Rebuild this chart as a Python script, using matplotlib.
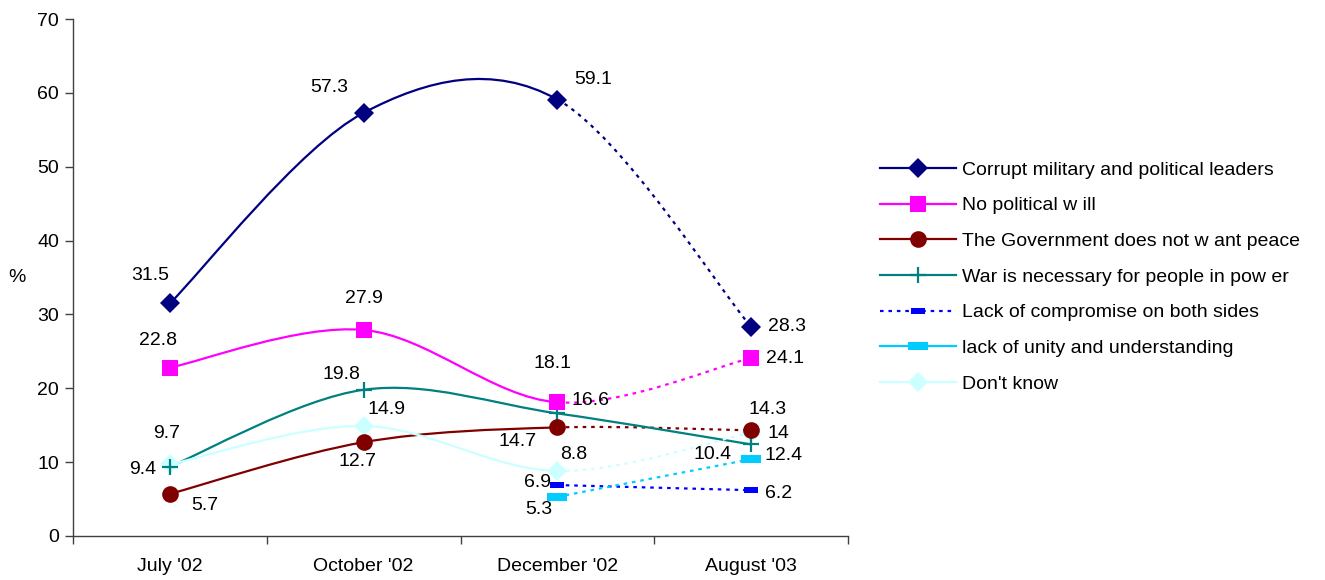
import numpy as np
import matplotlib
matplotlib.use("Agg")
import matplotlib.pyplot as plt
from matplotlib.path import Path
from matplotlib.patches import PathPatch
from matplotlib.lines import Line2D

plt.rcParams["font.family"] = ["Liberation Sans", "DejaVu Sans"]

# ========== DATA ==========
CATEGORIES = ["July '02", "October '02", "December '02", "August '03"]

CORRUPT = [31.5, 57.3, 59.1, 28.3]
NO_WILL = [22.8, 27.9, 18.1, 24.1]
GOVERNMENT = [5.7, 12.7, 14.7, 14.3]
WAR = [9.4, 19.8, 16.6, 12.4]
COMPROMISE = [None, None, 6.9, 6.2]
UNITY = [None, None, 5.3, 10.4]
DONT_KNOW = [9.7, 14.9, 8.8, 14.0]

SERIES_NAMES = [
    "Corrupt military and political leaders",
    "No political w ill",
    "The Government does not w ant peace",
    "War is necessary for people in pow er",
    "Lack of compromise on both sides",
    "lack of unity and understanding",
    "Don't know",
]
# ==========================

FONT = 14
AXIS_GREY = "#404040"
BAR = [(-1, -0.4), (1, -0.4), (1, 0.4), (-1, 0.4), (-1, -0.4)]

# style per series: colour, marker, marker size, dotted last segment?, label offsets (px)
STYLES = [
    dict(color="#000080", marker="D", ms=10, dotted_last=True,
         offs=[(-20, 28), (-34, 25), (36, 20), (36, 0)]),
    dict(color="#FF00FF", marker="s", ms=12, dotted_last=True,
         offs=[(-12, 27), (0, 31), (-5, 39), (34, 0)]),
    dict(color="#800000", marker="o", ms=12, dotted_last=True,
         offs=[(35, -12), (-6, -19), (-40, -14), (16, 21)]),
    dict(color="#008080", marker="+", ms=12, dotted_last=False,
         offs=[(-27, -3), (-22, 15), (33, 13), (32, -11)]),
    dict(color="#0000FF", marker=BAR, ms=10, dotted_last=True,
         offs=[None, None, (-20, 3), (27, -3)]),
    dict(color="#00CCFF", marker=BAR, ms=15, dotted_last=True,
         offs=[None, None, (-19, -13), (-39, 5)]),
    dict(color="#CCFFFF", marker="D", ms=10, dotted_last=True,
         offs=[(-3, 31), (23, 16), (16, 17), (27, -1)]),
]

DOTS = (0, (1.6, 2.2))


def segment_path(xs, ys, i):
    """Excel-like smoothed segment between point i and i+1."""
    n = len(xs)
    p0 = np.array([xs[i], ys[i]])
    p1 = np.array([xs[i + 1], ys[i + 1]])
    prev = np.array([xs[i - 1], ys[i - 1]]) if i > 0 else p0
    nxt = np.array([xs[i + 2], ys[i + 2]]) if i + 2 < n else p1
    c1 = p0 + (p1 - prev) / 6
    c2 = p1 - (nxt - p0) / 6
    return Path([p0, c1, c2, p1],
                [Path.MOVETO, Path.CURVE4, Path.CURVE4, Path.CURVE4])


fig = plt.figure(figsize=(13.25, 5.8), dpi=100)
ax = fig.add_axes([73 / 1325, 1 - 536 / 580, 775 / 1325, 517 / 580])

all_series = [CORRUPT, NO_WILL, GOVERNMENT, WAR, COMPROMISE, UNITY, DONT_KNOW]
order = [6, 5, 4, 3, 2, 1, 0]  # draw pale ones underneath
for k in order:
    vals = all_series[k]
    st = STYLES[k]
    idx = [i for i, v in enumerate(vals) if v is not None]
    xs = [float(i) for i in idx]
    ys = [vals[i] for i in idx]
    for s in range(len(xs) - 1):
        last = idx[s + 1] == len(CATEGORIES) - 1
        ls = DOTS if (last and st["dotted_last"]) else "-"
        patch = PathPatch(segment_path(xs, ys, s), fill=False, edgecolor=st["color"],
                          lw=1.6, linestyle=ls, zorder=2 + k * 0.01)
        ax.add_patch(patch)
    mew = 1.6 if st["marker"] == "+" else 0
    ax.plot(xs, ys, linestyle="none", marker=st["marker"], ms=st["ms"],
            color=st["color"], mfc=st["color"], mec=st["color"], mew=mew, zorder=4)
    for i, v in zip(idx, ys):
        ax.annotate(f"{v:g}", (i, v), xytext=st["offs"][i], textcoords="offset pixels",
                    ha="center", va="center", fontsize=FONT, color="black", zorder=5)

ax.set_xlim(-0.5, 3.5)
ax.set_ylim(0, 70)
ax.set_yticks(range(0, 71, 10))
ax.set_xticks([0, 1, 2, 3])
ax.set_xticklabels(CATEGORIES, fontsize=FONT)
ax.set_xticks([-0.5, 0.5, 1.5, 2.5, 3.5], minor=True)
ax.tick_params(axis="x", which="major", length=0, pad=16)
ax.tick_params(axis="x", which="minor", length=6, width=1, color=AXIS_GREY)
ax.tick_params(axis="y", length=6, width=1, color=AXIS_GREY, labelsize=FONT, pad=4)
for side in ["top", "right"]:
    ax.spines[side].set_visible(False)
for side in ["left", "bottom"]:
    ax.spines[side].set_color(AXIS_GREY)
    ax.spines[side].set_linewidth(1)
ax.set_ylabel("%", rotation=0, fontsize=FONT, va="center")
ax.yaxis.set_label_coords(-0.072, 35 / 70)

handles = []
for k, st in enumerate(STYLES):
    ls = DOTS if k == 4 else "-"
    mew = 1.6 if st["marker"] == "+" else 0
    handles.append(Line2D([], [], color=st["color"], lw=1.6, linestyle=ls,
                          marker=st["marker"], ms=st["ms"], mfc=st["color"],
                          mec=st["color"], mew=mew))
fig.legend(handles, SERIES_NAMES, loc="upper left",
           bbox_to_anchor=(880 / 1325, 1 - 161 / 580), frameon=False,
           fontsize=FONT, handlelength=3.9, handletextpad=0.3, borderpad=0,
           borderaxespad=0, labelspacing=0.93)

fig.savefig("out.png", dpi=100)
